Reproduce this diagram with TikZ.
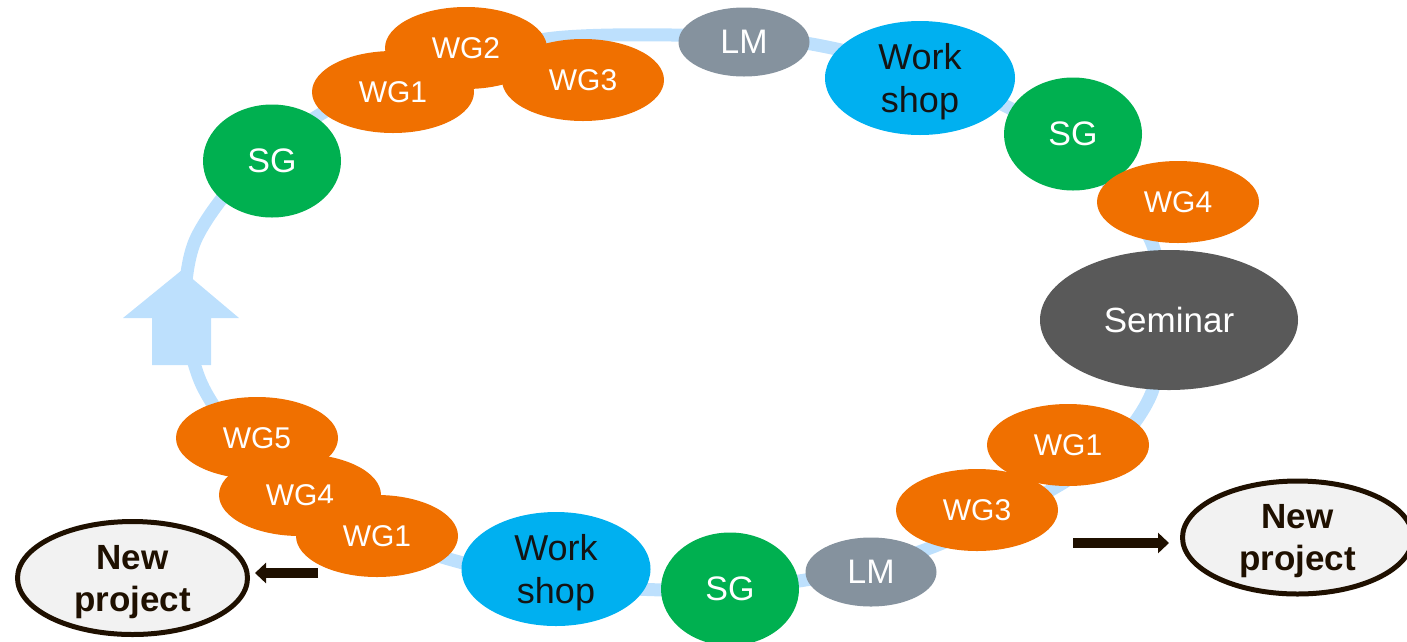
\documentclass[tikz,border=0pt]{standalone}
\usepackage{fontspec}
\setmainfont{Liberation Sans}
\usetikzlibrary{shapes.geometric,arrows.meta}
\definecolor{orng}{RGB}{240,112,0}
\definecolor{sgreen}{RGB}{0,176,80}
\definecolor{wsblue}{RGB}{0,176,240}
\definecolor{lmgray}{RGB}{133,146,158}
\definecolor{semgray}{RGB}{89,89,89}
\definecolor{ringblue}{RGB}{189,224,253}
\definecolor{brn}{RGB}{31,16,0}
\definecolor{npfill}{RGB}{242,242,242}
\definecolor{wstext}{RGB}{20,20,20}
\begin{document}
\begin{tikzpicture}[x=1pt,y=-1pt,
  blob/.style={ellipse, inner sep=0pt, outer sep=0pt, text=white},
  wg/.style={blob, fill=orng, minimum width=162pt, minimum height=82pt, font=\fontsize{30}{36}\selectfont},
  sg/.style={blob, fill=sgreen, minimum width=138pt, minimum height=113pt, font=\fontsize{34}{40}\selectfont},
  lm/.style={blob, fill=lmgray, minimum width=131pt, minimum height=69pt, font=\fontsize{34}{40}\selectfont},
  ws/.style={blob, fill=wsblue, text=wstext, minimum width=189pt, minimum height=114pt, align=center, text depth=0pt, font=\fontsize{36}{43}\selectfont},
  sem/.style={blob, fill=semgray, minimum width=258pt, minimum height=140pt, font=\fontsize{35}{42}\selectfont},
  np/.style={ellipse, draw=brn, line width=5pt, fill=npfill, inner sep=0pt, outer sep=0pt, minimum width=230pt, minimum height=113pt, align=center, text depth=0pt, text=brn, font=\bfseries\fontsize{35}{42}\selectfont},
  ring/.style={line width=13pt, draw=ringblue},
  blk/.style={line width=10pt, draw=brn, -{Triangle[length=11pt, width=20pt]}}
]
\useasboundingbox (0,0) rectangle (1407,641);
% ring
\draw[ring] plot[smooth cycle] coordinates {
  (185,313) (195,241) (245,172) (326,111) (429,69) (546,39) (672,35)
  (799,42) (916,70) (1017,112) (1096,171) (1151,241) (1161,313) (1152,392)
  (1108,452) (1022,506) (916,553) (799,581) (672,590) (546,581) (429,553)
  (328,509) (250,451.5) (202,385)};
% big up arrow
\fill[ringblue] (182,270) -- (239,318) -- (211,318) -- (211,365) -- (152,365) -- (152,318) -- (123,318) -- cycle;
% nodes on the ring
\node[sg] (sgA) at (272,161) {SG};
\node[wg] (wgB) at (466,48) {WG2};
\node[wg] (wgA) at (393,92) {WG1};
\node[wg] (wgC) at (583,80) {WG3};
\node[lm] (lmA) at (744,42) {LM};
\node[ws, minimum width=190pt] (wsA) at (920,78) {Work\\shop};
\node[sg] (sgB) at (1073,134) {SG};
\node[wg] (wgD) at (1178,202) {WG4};
\node[sem] (sem) at (1169,320) {Seminar};
\node[wg] (wgE) at (1068,445) {WG1};
\node[wg] (wgF) at (977,510) {WG3};
\node[lm] (lmB) at (871,572) {LM};
\node[sg] (sgC) at (730,589) {SG};
\node[ws] (wsB) at (556,569) {Work\\shop};
\node[wg] (wgG) at (257,438) {WG5};
\node[wg] (wgH) at (300,495) {WG4};
\node[wg] (wgI) at (377,536) {WG1};
% new project nodes
\node[np] (npA) at (132.5,578) {New\\project};
\node[np] (npB) at (1297.5,537.5) {New\\project};
% arrows
\coordinate (ra) at (1073,543);
\coordinate (la) at (318,573);
\draw[blk, shorten >=13.5pt] (ra) -- (ra -| npB.west);
\draw[blk, shorten >=7.5pt] (la) -- (la -| npA.east);
\end{tikzpicture}
\end{document}
